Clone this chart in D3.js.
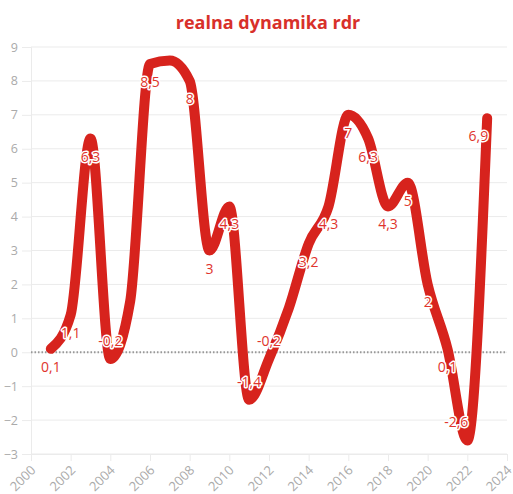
<!DOCTYPE html>
<html><head><meta charset="utf-8">
<script src="https://cdn.jsdelivr.net/npm/d3@7"></script>
<style>
body{margin:0;background:#fff;}
svg{display:block;font-family:"Open Sans",sans-serif;}
</style></head>
<body><svg id="c" width="513" height="494"></svg>
<script>
const title = "realna dynamika rdr";
const years = [2001,2002,2003,2004,2005,2006,2007,2008,2009,2010,2011,2012,2013,2014,2015,2016,2017,2018,2019,2020,2021,2022,2023];
const values = [0.1,1.1,6.3,-0.2,1.5,8.5,8.6,8,3,4.3,-1.4,-0.2,1.3,3.2,4.3,7,6.3,4.3,5,2,0.1,-2.6,6.9];
const unlabeledYears = [2005,2007,2013];
const xTicks = [2000,2002,2004,2006,2008,2010,2012,2014,2016,2018,2020,2022,2024];
const yTicks = [-3,-2,-1,0,1,2,3,4,5,6,7,8,9];

const svg = d3.select("#c");
const x = d3.scaleLinear().domain([2000,2024]).range([31,507]);
const y = d3.scaleLinear().domain([-3,9]).range([454,47]);

svg.append("text").attr("x",268).attr("y",29).attr("text-anchor","middle")
  .attr("font-size",18).attr("font-weight",700).attr("fill","#d8302a").text(title);

// horizontal grid
svg.append("g").selectAll("line").data(yTicks).join("line")
  .attr("x1",31).attr("x2",507).attr("y1",d=>y(d)).attr("y2",d=>y(d))
  .attr("stroke","#ebebeb").attr("stroke-width",1);

// y axis
const ya = svg.append("g").attr("transform","translate(31,0)")
  .call(d3.axisLeft(y).tickValues(yTicks).tickSize(9).tickPadding(4).tickFormat(d3.format("d")));
ya.select(".domain").attr("stroke","#ebebeb");
ya.selectAll(".tick line").attr("stroke","#ebebeb");
ya.selectAll("text").attr("fill","#aaaaaa").attr("font-size",12.5).attr("font-family","Open Sans, sans-serif");

// x axis
const xa = svg.append("g").attr("transform","translate(0,454)")
  .call(d3.axisBottom(x).tickValues(xTicks).tickSize(7).tickFormat(d3.format("d")));
xa.select(".domain").attr("stroke","#ebebeb");
xa.selectAll(".tick line").attr("stroke","#ebebeb");
xa.selectAll("text").attr("fill","#aaaaaa").attr("font-size",13).attr("font-family","Open Sans, sans-serif")
  .attr("text-anchor","end").attr("dy",null).attr("y",0)
  .attr("transform","translate(5,17) rotate(-45)");

// zero line
svg.append("line").attr("x1",31).attr("x2",507).attr("y1",y(0)).attr("y2",y(0))
  .attr("stroke","#999").attr("stroke-width",2).attr("stroke-dasharray","1.5,2");

const pts = years.map((yr,i)=>({yr, v:values[i], i}));
const line = d3.line().x(d=>x(d.yr)).y(d=>y(d.v)).curve(d3.curveMonotoneX);
svg.append("path").datum(pts).attr("d",line).attr("fill","none")
  .attr("stroke","#d7231d").attr("stroke-width",10).attr("stroke-linecap","round").attr("stroke-linejoin","round");

const fmt = v => String(v).replace(".",",");
const lab = pts.filter(d=>!unlabeledYears.includes(d.yr));
const n = years.length;
svg.append("g").selectAll("text").data(lab).join("text")
  .attr("x",d=>x(d.yr)+(d.i>=n-2?1:0))
  .attr("y",d=>y(d.v)+(d.v<0?-13:23))
  .attr("text-anchor",d=>d.i>=n-2?"end":"middle")
  .attr("font-size",14).attr("fill","#e0342d")
  .attr("stroke","#fff").attr("stroke-width",3).attr("paint-order","stroke").attr("stroke-linejoin","round")
  .text(d=>fmt(d.v));
</script></body></html>
